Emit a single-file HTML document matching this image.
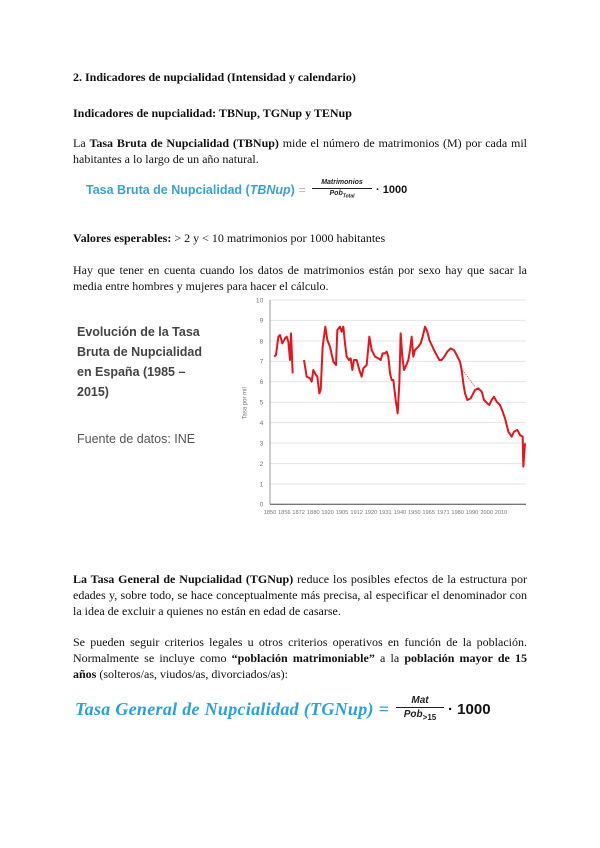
<!DOCTYPE html>
<html><head><meta charset="utf-8"><style>
body{margin:0;width:600px;height:848px;background:#fff;position:relative;font-family:"Liberation Serif",serif;font-size:12px;color:#111;overflow:hidden}
.t{position:absolute;left:73px;width:454px;line-height:16px;text-align:justify;white-space:nowrap}
.j{text-align-last:justify}
.s{position:absolute;font-family:"Liberation Sans",sans-serif;color:#444;font-weight:bold;font-size:12.5px;left:77px}
</style></head><body>
<div class="t" style="top:69px"><b>2. Indicadores de nupcialidad (Intensidad y calendario)</b></div>
<div class="t" style="top:105px"><b>Indicadores de nupcialidad: TBNup, TGNup y TENup</b></div>
<div class="t j" style="top:135px">La <b>Tasa Bruta de Nupcialidad (TBNup)</b> mide el número de matrimonios (M) por cada mil</div>
<div class="t" style="top:151px">habitantes a lo largo de un año natural.</div>
<div style="position:absolute;left:86px;top:183px;font-family:'Liberation Sans',sans-serif;font-weight:bold;font-size:12.5px;color:#3aa0dd">Tasa Bruta de Nupcialidad (<i>TBNup</i>) <span style="color:#bbb;font-weight:normal">=</span></div>
<div style="position:absolute;left:312px;top:178px;width:60px;text-align:center;font-family:'Liberation Sans',sans-serif;font-weight:bold;font-style:italic;font-size:7px;color:#222;line-height:10px"><div style="border-bottom:1px solid #222">Matrimonios</div><div>Pob<sub style="font-size:5px">Total</sub></div></div>
<div style="position:absolute;left:376px;top:184px;font-family:'Liberation Sans',sans-serif;font-weight:bold;font-size:11px">· 1000</div>
<div class="t" style="top:230px"><b>Valores esperables:</b> &gt; 2 y &lt; 10 matrimonios por 1000 habitantes</div>
<div class="t j" style="top:262px">Hay que tener en cuenta cuando los datos de matrimonios están por sexo hay que sacar la</div>
<div class="t" style="top:278px">media entre hombres y mujeres para hacer el cálculo.</div>
<div class="s" style="top:325px">Evolución de la Tasa</div>
<div class="s" style="top:345px">Bruta de Nupcialidad</div>
<div class="s" style="top:365px">en España (1985 –</div>
<div class="s" style="top:385px">2015)</div>
<div class="s" style="top:432px;font-weight:normal;color:#555">Fuente de datos: INE</div>
<svg style="position:absolute;left:0;top:0" width="600" height="848">
<g transform="translate(230,290) scale(0.33333)">
<g stroke="#e4e4e4" stroke-width="3">
<line x1="120" y1="30" x2="888" y2="30"/><line x1="120" y1="91" x2="888" y2="91"/><line x1="120" y1="153" x2="888" y2="153"/><line x1="120" y1="214" x2="888" y2="214"/><line x1="120" y1="275" x2="888" y2="275"/><line x1="120" y1="337" x2="888" y2="337"/><line x1="120" y1="398" x2="888" y2="398"/><line x1="120" y1="459" x2="888" y2="459"/><line x1="120" y1="521" x2="888" y2="521"/><line x1="120" y1="582" x2="888" y2="582"/>
</g>
<line x1="120" y1="30" x2="120" y2="643" stroke="#999" stroke-width="3"/>
<line x1="120" y1="643" x2="888" y2="643" stroke="#777" stroke-width="4"/>
<g font-family="Liberation Sans" font-size="20" fill="#777" text-anchor="end">
<text x="100" y="37">10</text><text x="100" y="98">9</text><text x="100" y="160">8</text><text x="100" y="221">7</text><text x="100" y="282">6</text><text x="100" y="344">5</text><text x="100" y="405">4</text><text x="100" y="466">3</text><text x="100" y="528">2</text><text x="100" y="589">1</text><text x="100" y="650">0</text>
</g>
<text transform="translate(50,340) rotate(-90)" font-family="Liberation Sans" font-size="18" fill="#777" text-anchor="middle">Tasa por mil</text>
<g font-family="Liberation Sans" font-size="17" fill="#777" text-anchor="middle">
<text x="120" y="672">1850</text><text x="163" y="672">1856</text><text x="206" y="672">1872</text><text x="250" y="672">1880</text><text x="293" y="672">1920</text><text x="336" y="672">1905</text><text x="380" y="672">1912</text><text x="423" y="672">1920</text><text x="466" y="672">1931</text><text x="510" y="672">1940</text><text x="553" y="672">1950</text><text x="596" y="672">1965</text><text x="640" y="672">1971</text><text x="683" y="672">1980</text><text x="726" y="672">1990</text><text x="770" y="672">2000</text><text x="813" y="672">2010</text>
</g>
<g fill="none" stroke="#e8141b" stroke-width="6" stroke-linejoin="round">
<polyline points="133,200 138,195 145,140 150,135 157,160 165,145 170,140 175,155 180,210 183,130 188,250"/>
<polyline points="222,210 230,260 240,265 245,275 250,240 258,255 262,260 268,310 272,300 278,170 286,110 292,150 300,170 310,215 318,225 322,120 330,110 335,125 340,110 345,160 350,200 357,210 362,205 367,240 372,210 380,210 388,240 395,260 400,235 410,225 418,140 425,180 435,200 445,205 452,210 458,190 465,190 470,185 475,200 480,250 485,270 490,270 497,330 503,370 508,280 512,130 517,200 522,240 527,230 535,210 540,180 545,140 550,200 555,180 560,175 565,170 572,160 578,140 585,110 592,125 598,150 605,165 612,180 620,195 628,210 635,210 643,200 652,185 662,175 672,180 680,195 690,215 695,240 700,280 705,310 712,330 722,325 735,300 745,295 755,305 762,330 772,340 778,345 785,330 792,320 800,335 810,345 818,365 825,385 835,425 845,440 852,425 862,420 870,435 878,440 880,530 885,460"/>
</g>
<line x1="690" y1="230" x2="735" y2="290" stroke="#e8141b" stroke-width="2" stroke-dasharray="4,3"/>
</g>
</svg>
<div class="t j" style="top:571px"><b>La Tasa General de Nupcialidad (TGNup)</b> reduce los posibles efectos de la estructura por</div>
<div class="t j" style="top:587px">edades y, sobre todo, se hace conceptualmente más precisa, al especificar el denominador con</div>
<div class="t" style="top:603px">la idea de excluir a quienes no están en edad de casarse.</div>
<div class="t j" style="top:634px">Se pueden seguir criterios legales u otros criterios operativos en función de la población.</div>
<div class="t j" style="top:650px">Normalmente se incluye como <b>“población matrimoniable”</b> a la <b>población mayor de 15</b></div>
<div class="t" style="top:666px"><b>años</b> (solteros/as, viudos/as, divorciados/as):</div>
<div style="position:absolute;left:75px;top:699px;font-family:'Liberation Serif',serif;font-weight:bold;font-style:italic;font-size:18px;color:#2aa0e0;letter-spacing:0.3px">Tasa General de Nupcialidad (TGNup) =</div>
<div style="position:absolute;left:396px;top:694px;width:48px;text-align:center;font-family:'Liberation Sans',sans-serif;font-weight:bold;font-style:italic;font-size:10px;color:#222;line-height:13px"><div style="border-bottom:1px solid #222">Mat</div><div>Pob<sub style="font-size:8px;font-style:normal">&gt;15</sub></div></div>
<div style="position:absolute;left:448px;top:701px;font-family:'Liberation Sans',sans-serif;font-weight:bold;font-size:15px">· 1000</div>
</body></html>
